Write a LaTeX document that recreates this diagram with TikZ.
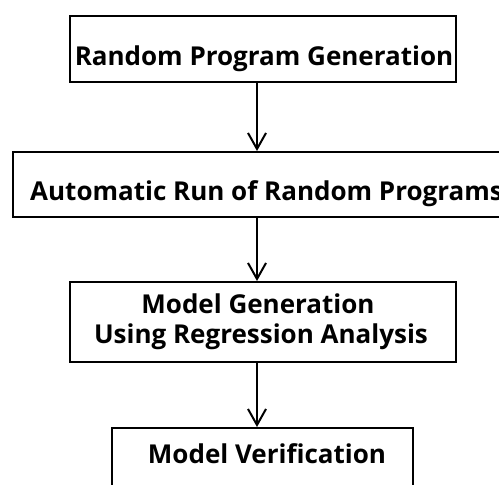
\documentclass[tikz,border=0pt]{standalone}
\usepackage{fontspec}
\setmainfont{Open Sans}
\usetikzlibrary{arrows.meta}
\begin{document}
\begin{tikzpicture}[x=1pt,y=-1pt,
  box/.style={draw=black,line width=2pt,inner sep=0pt,anchor=north west},
  lbl/.style={font=\bfseries\fontsize{26}{30}\selectfont,inner sep=0pt,anchor=base},
  flow/.style={line width=2pt,-{Straight Barb[length=16pt,width=18pt,line width=2pt]}}]
\useasboundingbox (0,0) rectangle (499,485);
\clip (0,0) rectangle (499,485);
\node[box,minimum width=386pt,minimum height=66pt] (b1) at (69,15) {};
\node[box,minimum width=500pt,minimum height=65pt] (b2) at (12,151) {};
\node[box,minimum width=386pt,minimum height=80pt] (b3) at (69,281) {};
\node[box,minimum width=301pt,minimum height=80pt] (b4) at (111,427) {};
\node[lbl] (t1) at (264,65) {Random Program Generation};
\node[lbl,anchor=base west] (t2) at (30,200) {Automatic Run of Random Programs};
\node[lbl] (t3a) at (258,313) {Model Generation};
\node[lbl] (t3b) at (261,343) {Using Regression Analysis};
\node[lbl] (t4) at (267,463) {Model Verification};
\coordinate (c1) at (257,81);
\coordinate (c2) at (257,216);
\coordinate (c3) at (257,361);
\draw[flow] (c1) -- (c1 |- b2.north);
\draw[flow] (c2) -- (c2 |- b3.north);
\draw[flow] (c3) -- (c3 |- b4.north);
\end{tikzpicture}
\end{document}
